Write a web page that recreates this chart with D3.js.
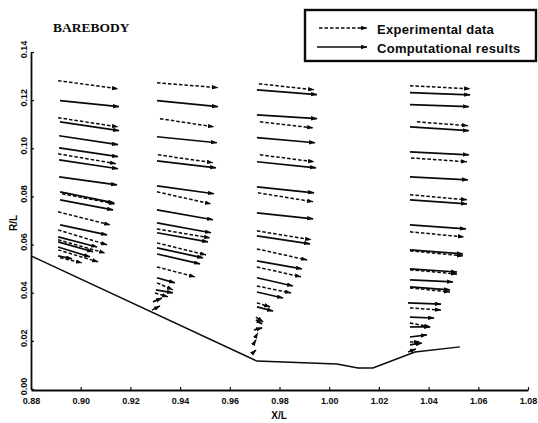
<!DOCTYPE html>
<html><head><meta charset="utf-8">
<script src="https://cdn.jsdelivr.net/npm/d3@7/dist/d3.min.js"></script>
<style>body{margin:0;background:#fff}svg{display:block}</style>
</head><body><svg id="c" width="538" height="423"></svg>
<script>
// ---- data ----
const xTicks = [0.88,0.90,0.92,0.94,0.96,0.98,1.00,1.02,1.04,1.06,1.08];
const yTicks = [0.00,0.02,0.04,0.06,0.08,0.10,0.12,0.14];
const bodyX = [0.88,0.9709,1.0031,1.0116,1.0176,1.0345,1.0526];
const bodyR = [0.0553,0.0116,0.0104,0.0087,0.0087,0.0154,0.0175];

// experimental vectors (dashed): start X/L, start R/L, head X/L, head R/L
const expX0 = [0.8909,0.8909,0.8909,0.8925,0.8909,0.8909,0.8909,0.8909,0.8917,
  0.9307,0.9319,0.9311,0.9307,0.9307,0.9307,0.9307,0.9307,0.9299,0.9287,
  0.9717,0.9721,0.9721,0.9713,0.9709,0.9709,0.9709,0.9709,0.9709,0.9705,0.9701,
  1.0325,1.0353,1.0329,1.0325,1.0325,1.0325,1.0325,1.0325,1.0325,1.0325,1.0325];
const expR0 = [0.1281,0.1127,0.0977,0.0811,0.0736,0.0661,0.0620,0.0578,0.0545,
  0.1272,0.1123,0.0973,0.0819,0.0665,0.0607,0.0507,0.0441,0.0399,0.0328,
  0.1268,0.1110,0.0973,0.0815,0.0657,0.0582,0.0507,0.0428,0.0358,0.0299,0.0212,
  0.1260,0.1110,0.0960,0.0807,0.0653,0.0574,0.0495,0.0420,0.0337,0.0274,0.0195];
const expX1 = [0.9150,0.9150,0.9142,0.9138,0.9118,0.9106,0.9098,0.9070,0.9005,
  0.9552,0.9536,0.9532,0.9524,0.9520,0.9504,0.9460,0.9371,0.9351,0.9319,
  0.9939,0.9935,0.9939,0.9935,0.9927,0.9911,0.9886,0.9846,0.9762,0.9734,0.9713,
  1.0567,1.0558,1.0554,1.0554,1.0542,1.0538,1.0514,1.0486,1.0450,1.0406,1.0365];
const expR1 = [0.1247,0.1089,0.0936,0.0769,0.0682,0.0599,0.0565,0.0528,0.0524,
  0.1252,0.1089,0.0940,0.0769,0.0628,0.0557,0.0466,0.0412,0.0383,0.0345,
  0.1243,0.1085,0.0944,0.0778,0.0620,0.0536,0.0466,0.0399,0.0341,0.0279,0.0233,
  0.1247,0.1094,0.0944,0.0786,0.0632,0.0553,0.0478,0.0403,0.0328,0.0258,0.0195];

// computational vectors (solid)
const comX0 = [0.8917,0.8917,0.8913,0.8913,0.8913,0.8913,0.8917,0.8917,0.8917,0.8909,0.8909,0.8909,0.8909,
  0.9307,0.9307,0.9307,0.9307,0.9307,0.9307,0.9307,0.9307,0.9307,0.9307,0.9303,0.9291,
  0.9709,0.9709,0.9709,0.9709,0.9709,0.9709,0.9709,0.9709,0.9709,0.9709,0.9709,0.9705,0.9697,0.9693,0.9689,
  1.0325,1.0325,1.0325,1.0325,1.0325,1.0325,1.0325,1.0325,1.0325,1.0325,1.0325,1.0317,1.0325,1.0325,1.0325,1.0325,1.0317];
const comR0 = [0.1198,0.1110,0.1052,0.1002,0.0952,0.0881,0.0819,0.0786,0.0682,0.0632,0.0611,0.0590,0.0553,
  0.1198,0.1048,0.0948,0.0844,0.0744,0.0690,0.0649,0.0586,0.0561,0.0462,0.0412,0.0362,
  0.1243,0.1139,0.1044,0.0944,0.0840,0.0732,0.0636,0.0532,0.0462,0.0403,0.0341,0.0287,0.0245,0.0183,0.0146,
  0.1231,0.1181,0.1089,0.0985,0.0881,0.0786,0.0682,0.0578,0.0499,0.0453,0.0424,0.0358,0.0299,0.0258,0.0216,0.0183,0.0154];
const comX1 = [0.9154,0.9154,0.9150,0.9150,0.9150,0.9146,0.9134,0.9130,0.9106,0.9066,0.9049,0.9037,0.8965,
  0.9552,0.9548,0.9544,0.9536,0.9532,0.9524,0.9512,0.9492,0.9480,0.9379,0.9371,0.9327,
  0.9951,0.9951,0.9943,0.9947,0.9939,0.9935,0.9923,0.9890,0.9854,0.9814,0.9774,0.9730,0.9730,0.9705,0.9705,
  1.0567,1.0562,1.0562,1.0562,1.0558,1.0554,1.0550,1.0538,1.0514,1.0498,1.0486,1.0450,1.0422,1.0406,1.0393,1.0373,1.0349];
const comR1 = [0.1173,0.1073,0.1015,0.0965,0.0915,0.0848,0.0773,0.0744,0.0640,0.0590,0.0570,0.0549,0.0541,
  0.1173,0.1023,0.0919,0.0811,0.0703,0.0649,0.0611,0.0545,0.0520,0.0441,0.0399,0.0378,
  0.1223,0.1123,0.1023,0.0919,0.0815,0.0707,0.0603,0.0499,0.0428,0.0378,0.0324,0.0270,0.0254,0.0204,0.0162,
  0.1222,0.1173,0.1073,0.0973,0.0869,0.0769,0.0665,0.0561,0.0486,0.0445,0.0412,0.0353,0.0295,0.0258,0.0225,0.0191,0.0166];

const legendLabels = ["Experimental data","Computational results"];
const titleText = "BAREBODY";

// ---- drawing ----
const svg = d3.select("#c");
const x = d3.scaleLinear().domain([0.88,1.08]).range([31,528]);
const y = d3.scaleLinear().domain([0,0.14]).range([389,52]);
const ink = "#0a0a0a";

const defs = svg.append("defs");
defs.append("marker").attr("id","ah").attr("markerUnits","userSpaceOnUse")
  .attr("markerWidth",7).attr("markerHeight",5).attr("refX",6).attr("refY",2.2)
  .attr("orient","auto")
  .append("path").attr("d","M0,0 L6.5,2.2 L0,4.4 Z").attr("fill",ink);

// title
svg.append("text").attr("x",53).attr("y",32).text(titleText)
  .attr("font-family","'Liberation Serif', serif").attr("font-weight","bold")
  .attr("font-size",13.5).attr("fill",ink);

// axes
const xAxis = d3.axisBottom(x).tickValues(xTicks).tickFormat(d3.format(".2f")).tickSizeInner(-3).tickSizeOuter(0).tickPadding(8);
const gx = svg.append("g").attr("transform","translate(0,390)").call(xAxis);
gx.select(".domain").attr("stroke",ink).attr("stroke-width",1.8);
gx.selectAll(".tick line").attr("stroke",ink).attr("stroke-width",1.2);
gx.selectAll(".tick text").attr("font-family","'Liberation Sans', Arial, sans-serif")
  .attr("font-weight","bold").attr("font-size",9).attr("fill",ink);

const yAxis = d3.axisLeft(y).tickValues(yTicks).tickFormat(d3.format(".2f")).tickSizeInner(-3).tickSizeOuter(0);
const gy = svg.append("g").attr("transform","translate(31,0)").call(yAxis);
gy.select(".domain").attr("stroke",ink).attr("stroke-width",1.8);
gy.selectAll(".tick line").attr("stroke",ink).attr("stroke-width",1.2);
gy.selectAll(".tick text").attr("x",0).attr("dy",null)
  .attr("transform","translate(-4,-3) rotate(-90)")
  .attr("text-anchor","middle").attr("dominant-baseline","auto")
  .attr("font-family","'Liberation Sans', Arial, sans-serif")
  .attr("font-weight","bold").attr("font-size",9).attr("fill",ink);

// axis titles
svg.append("text").attr("x",279).attr("y",419).attr("text-anchor","middle").text("X/L")
  .attr("font-family","'Liberation Sans', Arial, sans-serif").attr("font-weight","bold").attr("font-size",10).attr("fill",ink);
svg.append("text").attr("transform","translate(17,223) rotate(-90)").attr("text-anchor","middle").text("R/L")
  .attr("font-family","'Liberation Sans', Arial, sans-serif").attr("font-weight","bold").attr("font-size",10).attr("fill",ink);

// body contour
const bodyPts = bodyX.map((v,i)=>[v,bodyR[i]]);
svg.append("path").datum(bodyPts)
  .attr("d", d3.line().x(d=>x(d[0])).y(d=>y(d[1])))
  .attr("fill","none").attr("stroke",ink).attr("stroke-width",1.5);

// vectors
const expData = expX0.map((v,i)=>({x0:v,r0:expR0[i],x1:expX1[i],r1:expR1[i]}));
const comData = comX0.map((v,i)=>({x0:v,r0:comR0[i],x1:comX1[i],r1:comR1[i]}));

svg.append("g").selectAll("line").data(comData).join("line")
  .attr("x1",d=>x(d.x0)).attr("y1",d=>y(d.r0))
  .attr("x2",d=>x(d.x1)).attr("y2",d=>y(d.r1))
  .attr("stroke",ink).attr("stroke-width",1.7).attr("marker-end","url(#ah)");

svg.append("g").selectAll("line").data(expData).join("line")
  .attr("x1",d=>x(d.x0)).attr("y1",d=>y(d.r0))
  .attr("x2",d=>x(d.x1)).attr("y2",d=>y(d.r1))
  .attr("stroke",ink).attr("stroke-width",1.5).attr("stroke-dasharray","3.5,2")
  .attr("marker-end","url(#ah)");

// legend
const lg = svg.append("g");
lg.append("rect").attr("x",305).attr("y",10).attr("width",231).attr("height",51)
  .attr("fill","none").attr("stroke",ink).attr("stroke-width",2.4);
lg.append("line").attr("x1",319).attr("x2",367).attr("y1",28).attr("y2",28)
  .attr("stroke",ink).attr("stroke-width",1.5).attr("stroke-dasharray","3.5,2").attr("marker-end","url(#ah)");
lg.append("line").attr("x1",317).attr("x2",367).attr("y1",47).attr("y2",47)
  .attr("stroke",ink).attr("stroke-width",1.7).attr("marker-end","url(#ah)");
lg.selectAll("text.lg").data(legendLabels).join("text").attr("class","lg")
  .attr("x",377).attr("y",(d,i)=>34+i*19).text(d=>d)
  .attr("font-family","'Liberation Sans', Arial, sans-serif").attr("font-weight","bold")
  .attr("font-size",13).attr("letter-spacing",0.3).attr("fill",ink);
</script></body></html>
